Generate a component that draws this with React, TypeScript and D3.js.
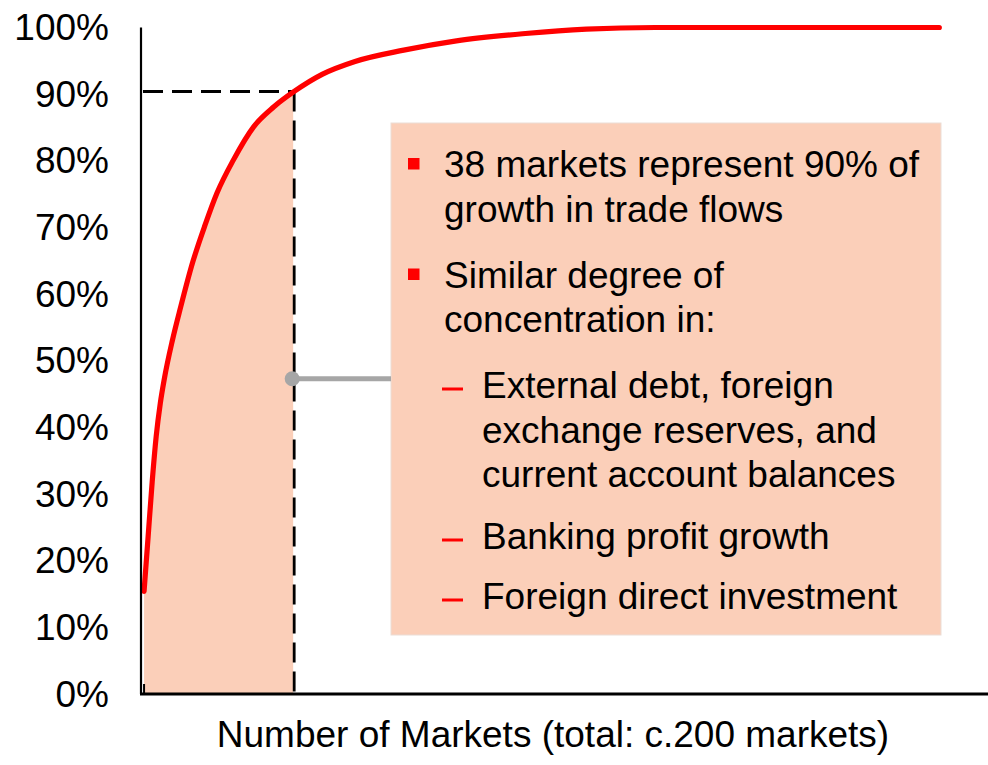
import React from "react";
import * as d3 from "d3";

// ---- Data ----
const MARKETS = [1, 2, 3, 4, 5, 6, 8, 10, 13, 16, 19, 23, 28, 33, 38, 45, 53, 65, 78, 95, 110, 127, 150, 197];
const CUM_SHARE = [
  0.154, 0.236, 0.318, 0.387, 0.436, 0.473, 0.531, 0.58, 0.648, 0.703, 0.752, 0.801, 0.851, 0.881, 0.904,
  0.93, 0.949, 0.966, 0.98, 0.991, 0.9975, 1.0, 1.0, 1.0,
];
const Y_TICKS = [0, 0.1, 0.2, 0.3, 0.4, 0.5, 0.6, 0.7, 0.8, 0.9, 1.0];
const THRESHOLD_MARKET = 38;
const CALLOUT_SHARE = 0.473;
const X_AXIS_TITLE = "Number of Markets (total: c.200 markets)";
const MAIN_BULLETS = [
  ["38 markets represent 90% of", "growth in trade flows"],
  ["Similar degree of", "concentration in:"],
];
const SUB_BULLETS = [
  ["External debt, foreign", "exchange reserves, and", "current account balances"],
  ["Banking profit growth"],
  ["Foreign direct investment"],
];

// ---- Layout ----
const W = 988;
const H = 765;
const FONT = "'Liberation Sans', Arial, Helvetica, sans-serif";
const FS = 37;
const PEACH = "#FBCFB9";
const RED = "#FF0000";
const GREY = "#A6A6A6";

export default function App() {
  const x = d3.scaleLinear().domain([0, 209]).range([140, 988]);
  const y = d3.scaleLinear().domain([0, 1]).range([694, 27.5]);

  const pts: [number, number][] = MARKETS.map((m, i) => [m, CUM_SHARE[i]]);
  const line = d3
    .line<[number, number]>()
    .x((d) => x(d[0]))
    .y((d) => y(d[1]))
    .curve(d3.curveMonotoneX);
  const area = d3
    .area<[number, number]>()
    .x((d) => x(d[0]))
    .y0(y(0))
    .y1((d) => y(d[1]))
    .curve(d3.curveMonotoneX);

  const thrIdx = MARKETS.indexOf(THRESHOLD_MARKET);
  const thrShare = CUM_SHARE[thrIdx];
  const tx = x(THRESHOLD_MARKET);
  const ty = y(thrShare);

  // text box
  const box = { x: 391, y: 123, w: 550, h: 512 };
  const textX = 444;
  const subTextX = 482;
  const lineH = 44.5;
  const mainGap = 66;
  const subGaps = [66, 62, 60];

  const textEls: React.ReactNode[] = [];
  let by = 177;
  MAIN_BULLETS.forEach((para, pi) => {
    if (pi > 0) by += mainGap;
    textEls.push(
      <rect key={`mb${pi}`} x={408} y={by - 19} width={11.5} height={11.5} fill={RED} />
    );
    para.forEach((t, li) => {
      if (li > 0) by += lineH;
      textEls.push(
        <text key={`mt${pi}-${li}`} x={textX} y={by} fontSize={FS} fontFamily={FONT} fill="#000">
          {t}
        </text>
      );
    });
  });
  SUB_BULLETS.forEach((para, pi) => {
    by += subGaps[pi];
    textEls.push(
      <rect key={`sb${pi}`} x={442} y={by - 10.5} width={21} height={3} fill={RED} />
    );
    para.forEach((t, li) => {
      if (li > 0) by += lineH;
      textEls.push(
        <text key={`st${pi}-${li}`} x={subTextX} y={by} fontSize={FS} fontFamily={FONT} fill="#000">
          {t}
        </text>
      );
    });
  });

  return (
    <svg
      width={W}
      height={H}
      viewBox={`0 0 ${W} ${H}`}
      style={{ position: "absolute", left: 0, top: 0, display: "block", background: "#fff" }}
    >
      <defs>
        <clipPath id="shadeClip">
          <rect x={x(1) - 1} y={0} width={tx - x(1)} height={H} />
        </clipPath>
      </defs>

      {/* shaded area up to threshold */}
      <path d={area(pts) || ""} fill={PEACH} clipPath="url(#shadeClip)" />

      {/* dashed guide lines */}
      <line x1={x(0) + 3} x2={tx} y1={ty} y2={ty} stroke="#000" strokeWidth={2.8} strokeDasharray="20 9" />
      <line x1={tx} x2={tx} y1={ty} y2={y(0)} stroke="#000" strokeWidth={2.8} strokeDasharray="20 9" />

      {/* curve */}
      <path d={line(pts) || ""} fill="none" stroke={RED} strokeWidth={5.2} strokeLinecap="round" strokeLinejoin="round" />

      {/* axes */}
      <line x1={x(0) + 1} x2={x(0) + 1} y1={y(1)} y2={y(0)} stroke="#000" strokeWidth={2.2} />
      <line x1={x(0)} x2={W} y1={y(0)} y2={y(0)} stroke="#000" strokeWidth={2.8} />
      <line x1={x(1)} x2={x(1)} y1={y(0)} y2={y(0) - 10} stroke="#000" strokeWidth={2} />

      {Y_TICKS.map((t) => (
        <text
          key={t}
          x={109}
          y={y(t) + 12.5}
          textAnchor="end"
          fontSize={FS}
          fontFamily={FONT}
          fill="#000"
        >
          {d3.format(".0%")(t)}
        </text>
      ))}

      <text x={553} y={747} textAnchor="middle" fontSize={FS} fontFamily={FONT} fill="#000">
        {X_AXIS_TITLE}
      </text>

      {/* callout box */}
      <rect x={box.x} y={box.y} width={box.w} height={box.h} fill={PEACH} stroke="#EBDDD6" strokeWidth={1} />
      <line x1={tx} x2={box.x} y1={y(CALLOUT_SHARE)} y2={y(CALLOUT_SHARE)} stroke={GREY} strokeWidth={5} />
      <circle cx={tx - 2} cy={y(CALLOUT_SHARE)} r={7.5} fill={GREY} />
      {textEls}
    </svg>
  );
}
